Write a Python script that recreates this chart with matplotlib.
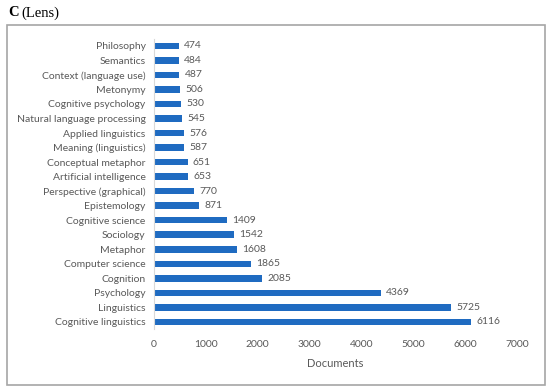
import matplotlib
matplotlib.use("Agg")
import matplotlib.pyplot as plt
from matplotlib.patches import Rectangle

categories = ["Philosophy", "Semantics", "Context (language use)", "Metonymy",
              "Cognitive psychology", "Natural language processing", "Applied linguistics",
              "Meaning (linguistics)", "Conceptual metaphor", "Artificial intelligence",
              "Perspective (graphical)", "Epistemology", "Cognitive science", "Sociology",
              "Metaphor", "Computer science", "Cognition", "Psychology", "Linguistics",
              "Cognitive linguistics"]
values = [474, 484, 487, 506, 530, 545, 576, 587, 651, 653, 770, 871, 1409, 1542,
          1608, 1865, 2085, 4369, 5725, 6116]
xticks = [0, 1000, 2000, 3000, 4000, 5000, 6000, 7000]

txt = '#595959'
fig = plt.figure(figsize=(5.5, 3.9), dpi=100)
ax = fig.add_axes([0.28, 0.156, 0.66, 0.745])

n = len(categories)
ypos = list(range(n - 1, -1, -1))
ax.barh(ypos, values, height=0.45, color='#1f6bc1')
for y, v in zip(ypos, values):
    ax.text(v + 100, y, str(v), va='center', ha='left', fontsize=7.5, color=txt, family='Lato')

ax.set_yticks(ypos)
ax.set_yticklabels(categories, fontsize=7.5, color=txt, family='Lato')
ax.set_xticks(xticks)
ax.set_xticklabels([str(t) for t in xticks], fontsize=7.5, color=txt, family='Lato')
ax.set_xlim(0, 7000)
ax.set_ylim(-0.5, n - 0.5)
ax.tick_params(axis='both', length=0, pad=6)
ax.tick_params(axis='x', pad=8)
for s in ['top', 'right', 'bottom']:
    ax.spines[s].set_visible(False)
ax.spines['left'].set_color('#d9d9d9')
ax.set_xlabel('Documents', fontsize=8, color=txt, family='Lato', labelpad=6)

fig.patches.append(Rectangle((7/550, 1-385/390), 538/550, 360/390, transform=fig.transFigure,
                             fill=False, edgecolor='#a6a6a6', linewidth=1.2))
fig.text(8/550, 1-13/390, 'C', fontsize=10.5, fontweight='bold', family='Liberation Serif', va='center')
fig.text(21/550, 1-13/390, '(Lens)', fontsize=10.5, family='Liberation Serif', va='center')

fig.savefig('out.png', dpi=100)
